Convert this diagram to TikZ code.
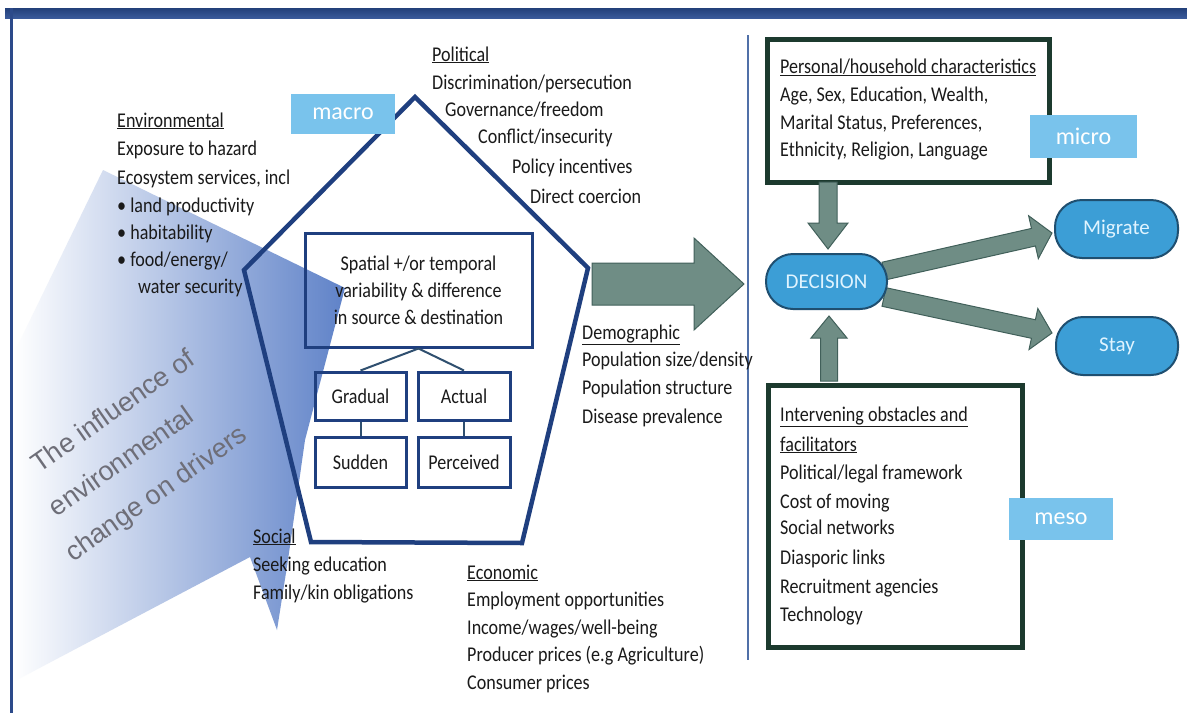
\documentclass[tikz,border=0pt]{standalone}
\usepackage{fontspec}
\setmainfont{Carlito}[FakeStretch=0.86]
\newfontfamily\lblfont{Carlito}
\newfontfamily\inflfont{Liberation Sans}
\usetikzlibrary{calc}
\definecolor{navy}{HTML}{1F3F7F}
\definecolor{barblue}{HTML}{23407A}
\definecolor{barblue2}{HTML}{3A5A9A}
\definecolor{bordblue}{HTML}{2C4A8A}
\definecolor{divblue}{HTML}{5070A8}
\definecolor{shapeblue}{HTML}{5F82C8}
\definecolor{boxgreen}{HTML}{1C3A2E}
\definecolor{arrfill}{HTML}{6F8D85}
\definecolor{arrdraw}{HTML}{41605A}
\definecolor{pillfill}{HTML}{3C9ED6}
\definecolor{pilldraw}{HTML}{1F4F70}
\definecolor{pilltext}{HTML}{E0F4FF}
\definecolor{lblblue}{HTML}{79C3EC}
\definecolor{txtcol}{HTML}{1A1A1A}
\definecolor{inflcol}{HTML}{6E6E78}
\definecolor{linkcol}{HTML}{2F4F6F}
\newcommand\blkarr[5]{%
  \coordinate (bac) at ($(#2)!#5!(#1)$);
  \filldraw[blockarrow] ($(#1)!#3!90:(#2)$) -- ($(bac)!#3!-90:(#1)$) -- ($(bac)!#4!-90:(#1)$) -- (#2) -- ($(bac)!#4!90:(#1)$) -- ($(bac)!#3!90:(#1)$) -- ($(#1)!#3!-90:(#2)$) -- cycle;}
\begin{document}
\begin{tikzpicture}[x=1pt,y=-1pt,
  txt/.style={anchor=base west, inner sep=0pt, text=txtcol, font=\fontsize{21}{27}\selectfont},
  navybox/.style={draw=navy, line width=3pt, inner sep=0pt, text=txtcol, font=\fontsize{21}{27}\selectfont, align=center},
  darkbox/.style={draw=boxgreen, line width=5pt, inner sep=0pt, anchor=north west},
  pill/.style={draw=pilldraw, line width=2pt, fill=pillfill, rounded corners=27pt, text=pilltext, font=\lblfont\fontsize{21}{24}\selectfont},
  lvl/.style={fill=lblblue, text=white, inner sep=0pt, font=\lblfont\fontsize{24}{28}\selectfont},
  blockarrow/.style={fill=arrfill, draw=arrdraw, line width=1pt, line join=miter},
  link/.style={draw=linkcol, line width=2pt},
  infl/.style={text=inflcol, font=\inflfont\fontsize{27}{46}\selectfont, rotate=35, inner sep=0pt, align=left}]
\useasboundingbox (0,0) rectangle (1187,713);
\fill[white] (0,0) rectangle (1187,713);
% frame
\shade[top color=barblue, bottom color=barblue2] (5,8) rectangle (1187,18);
\fill[bordblue] (10,8) rectangle (13,713);
\draw[divblue, line width=1.5pt] (748,35) -- (748,660);
% big shaded arrow
\shade[left color=white, right color=shapeblue] (103,170) -- (345,288) -- (305,440) -- (288,560) -- (277,630) -- (250,557) -- (13,682) -- (13,355) -- cycle;
\node[infl] (infl) at (131,457) {\hspace*{23pt}The influence of\\\hspace*{12pt}environmental\\change on drivers};
% pentagon
\draw[navy, line width=4.5pt, line join=miter] (415,97) -- (588,268) -- (522,543) -- (311,542) -- (244,270) -- cycle;
\node[lvl, minimum width=104pt, minimum height=40pt] (macro) at (343,114) {macro};
% inner boxes
\node[navybox, minimum width=227pt, minimum height=114pt] (spat) at (418.5,290) {Spatial +/or temporal\\variability \& difference\\in source \& destination};
\node[navybox, minimum width=91pt, minimum height=48pt] (grad) at (360.5,396) {Gradual};
\node[navybox, minimum width=92pt, minimum height=48pt] (act) at (464,396) {Actual};
\node[navybox, minimum width=91pt, minimum height=50pt] (sud) at (360.5,462) {Sudden};
\node[navybox, minimum width=92pt, minimum height=50pt] (perc) at (464,462) {Perceived};
\draw[link] (spat.south) -- (grad.north);
\draw[link] (spat.south) -- (act.north);
\draw[link] (grad.south) -- (sud.north);
\draw[link] (act.south) -- (perc.north);
% environmental
\node[txt] (env1) at (117,127) {\underline{Environmental}};
\node[txt] (env2) at (117,155) {Exposure to hazard};
\node[txt] (env3) at (117,184) {Ecosystem services, incl};
\node[txt] (env4) at (117,212) {\textbullet\ land productivity};
\node[txt] (env5) at (117,239) {\textbullet\ habitability};
\node[txt] (env6) at (117,266) {\textbullet\ food/energy/};
\node[txt] (env7) at (138,293) {water security};
% political
\node[txt] (pol1) at (432,61) {\underline{Political}};
\node[txt] (pol2) at (432,89) {Discrimination/persecution};
\node[txt] (pol3) at (445,116) {Governance/freedom};
\node[txt] (pol4) at (478,143) {Conflict/insecurity};
\node[txt] (pol5) at (512,173) {Policy incentives};
\node[txt] (pol6) at (530,203) {Direct coercion};
% demographic
\node[txt] (dem1) at (582,339) {\underline{Demographic}};
\node[txt] (dem2) at (582,366) {Population size/density};
\node[txt] (dem3) at (582,394) {Population structure};
\node[txt] (dem4) at (582,423) {Disease prevalence};
% economic
\node[txt] (eco1) at (467,579) {\underline{Economic}};
\node[txt] (eco2) at (467,606) {Employment opportunities};
\node[txt] (eco3) at (467,634) {Income/wages/well-being};
\node[txt] (eco4) at (467,661) {Producer prices (e.g Agriculture)};
\node[txt] (eco5) at (467,689) {Consumer prices};
% social
\node[txt] (soc1) at (253,543) {\underline{Social}};
\node[txt] (soc2) at (253,571) {Seeking education};
\node[txt] (soc3) at (253,599) {Family/kin obligations};
% main arrow
\coordinate (bigS) at (592,284);
\coordinate (bigT) at (744,284);
\blkarr{bigS}{bigT}{21pt}{46pt}{50pt}
% right side
\node[darkbox, minimum width=282pt, minimum height=143pt] (pers) at (765,37) {};
\node[txt] (per1) at (780,73) {\underline{Personal/household characteristics}};
\node[txt] (per2) at (780,101) {Age, Sex, Education, Wealth,};
\node[txt] (per3) at (780,129) {Marital Status, Preferences,};
\node[txt] (per4) at (780,156) {Ethnicity, Religion, Language};
\node[lvl, minimum width=107pt, minimum height=43pt] (micro) at (1083.5,136.5) {micro};
\node[darkbox, minimum width=254pt, minimum height=262pt] (interv) at (766,383) {};
\node[txt] (int1) at (780,421) {\underline{Intervening obstacles and}};
\node[txt] (int2) at (780,451) {\underline{facilitators}};
\node[txt] (int3) at (780,479) {Political/legal framework};
\node[txt] (int4) at (780,508) {Cost of moving};
\node[txt] (int5) at (780,534) {Social networks};
\node[txt] (int6) at (780,564) {Diasporic links};
\node[txt] (int7) at (780,593) {Recruitment agencies};
\node[txt] (int8) at (780,621) {Technology};
\node[lvl, minimum width=104pt, minimum height=42pt] (meso) at (1061,519) {meso};
% decision arrows
\coordinate (dnS) at (828,182);
\coordinate (dnT) at (828,249);
\blkarr{dnS}{dnT}{9pt}{20pt}{26pt}
\coordinate (upS) at (829,381);
\coordinate (upT) at (829,316);
\blkarr{upS}{upT}{8.5pt}{18pt}{22pt}
\coordinate (miS) at (884,271);
\coordinate (miT) at (1052,233);
\blkarr{miS}{miT}{9pt}{22pt}{19pt}
\coordinate (stS) at (884,297);
\coordinate (stT) at (1052,333);
\blkarr{stS}{stT}{9.5pt}{21pt}{19pt}
\node[pill, minimum width=121pt, minimum height=55pt] (dec) at (826.5,281.5) {DECISION};
\node[pill, minimum width=123pt, minimum height=58pt] (mig) at (1116.5,229) {Migrate};
\node[pill, minimum width=122pt, minimum height=58pt] (stay) at (1117,346) {Stay};
\end{tikzpicture}
\end{document}
